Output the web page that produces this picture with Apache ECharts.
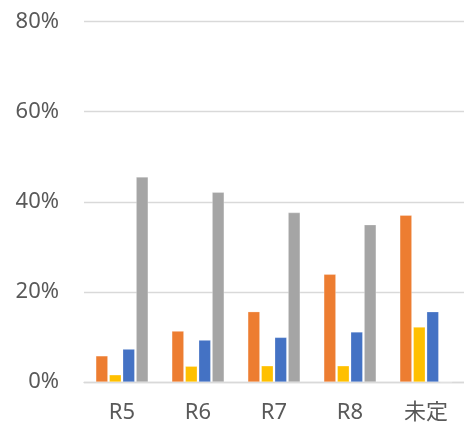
<!DOCTYPE html>
<html><head><meta charset="utf-8">
<script src="https://cdn.jsdelivr.net/npm/echarts@6/dist/echarts.min.js"></script>
<style>html,body{margin:0;padding:0;background:#fff}#c{width:464px;height:430px}</style>
</head><body><div id="c"></div>
<script>
const categories = ['R5', 'R6', 'R7', 'R8', '未定'];
const seriesOrange = [5.8, 11.3, 15.6, 23.9, 37.0];
const seriesYellow = [1.6, 3.5, 3.6, 3.6, 12.2];
const seriesBlue = [7.3, 9.3, 9.9, 11.1, 15.6];
const seriesGray = [45.5, 42.1, 37.6, 34.9, 0];
const yTicks = [0, 20, 40, 60, 80];

const colors = ['#ED7D31', '#FFC000', '#4472C4', '#A5A5A5'];
const font = '"Noto Sans", "Noto Sans CJK JP", sans-serif';
const chart = echarts.init(document.getElementById('c'), null, {renderer: 'canvas'});
const mk = (data, i) => ({
  type: 'bar', data, barWidth: 12, barGap: '12%',
  itemStyle: {color: colors[i], borderColor: 'rgba(255,255,255,0.5)', borderWidth: 0.5},
  animation: false
});
chart.setOption({
  animation: false,
  grid: {left: 84, right: 0, top: 21.5, bottom: 48, containLabel: false},
  xAxis: {
    type: 'category', data: categories,
    axisLine: {lineStyle: {color: '#D9D9D9', width: 1.3}},
    axisTick: {show: false},
    axisLabel: {color: '#595959', fontSize: 22, fontFamily: font, margin: 20}
  },
  yAxis: {
    type: 'value', min: yTicks[0], max: yTicks[yTicks.length - 1], interval: 20,
    axisLine: {show: false}, axisTick: {show: false},
    splitLine: {lineStyle: {color: '#D9D9D9', width: 1.3}},
    axisLabel: {color: '#595959', fontSize: 22, fontFamily: font, margin: 25, formatter: v => v + '%'}
  },
  series: [mk(seriesOrange, 0), mk(seriesYellow, 1), mk(seriesBlue, 2), mk(seriesGray, 3)]
});
</script></body></html>
